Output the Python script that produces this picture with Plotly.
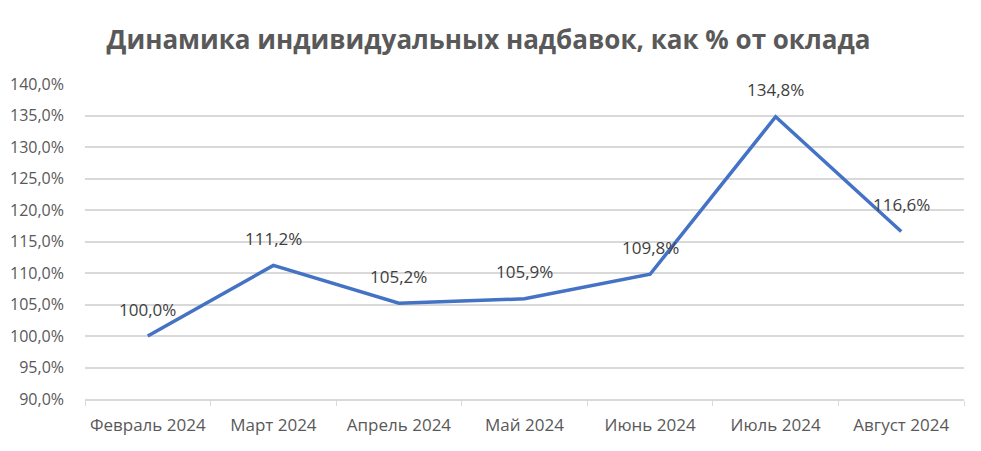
import plotly.graph_objects as go

categories = ["Февраль 2024", "Март 2024", "Апрель 2024", "Май 2024",
              "Июнь 2024", "Июль 2024", "Август 2024"]
values = [100.0, 111.2, 105.2, 105.9, 109.8, 134.8, 116.6]
labels = ["100,0%", "111,2%", "105,2%", "105,9%", "109,8%", "134,8%", "116,6%"]
title_text = "Динамика индивидуальных надбавок, как % от оклада"

FONT = "Open Sans"
FS = 17
fig = go.Figure()
fig.add_trace(go.Scatter(
    x=categories, y=values, mode="lines",
    line=dict(color="#4472C4", width=3.5),
    hoverinfo="skip", showlegend=False,
))

for c, v, t in zip(categories, values, labels):
    fig.add_annotation(x=c, y=v, text=t, showarrow=False, yshift=27,
                       font=dict(family=FONT, size=FS, color="#404040"))

# page has an 8px body margin, so the figure is offset by 8px
W, H = 973, 443
L, R, T, B = 77, 17, 76, 52

fig.update_layout(
    width=W, height=H,
    margin=dict(l=L, r=R, t=T, b=B, autoexpand=False),
    paper_bgcolor="white", plot_bgcolor="white",
    separators=", ",
    title=dict(text="<b>" + title_text + "</b>", x=480.5 / W, xref="container",
               xanchor="center", yref="container", y=1 - 32 / H, yanchor="middle",
               font=dict(family=FONT, size=26, color="#595959")),
    xaxis=dict(
        type="category", range=[-0.5, 6.5], automargin=False,
        tickson="boundaries", ticks="outside", ticklen=5,
        tickcolor="#D9D9D9", showline=True, linecolor="#D9D9D9", linewidth=1.5,
        showgrid=False, ticklabelstandoff=10,
        tickfont=dict(family=FONT, size=FS, color="#595959"),
    ),
    yaxis=dict(
        range=[90, 140], dtick=5, tick0=90, tickformat=".1f", ticksuffix="%",
        showgrid=True, gridcolor="#D9D9D9", gridwidth=1.5, automargin=False,
        zeroline=False, showline=False, ticks="", ticklabelstandoff=20,
        tickfont=dict(family=FONT, size=16, color="#595959"),
    ),
)

fig.write_html("out.html")
